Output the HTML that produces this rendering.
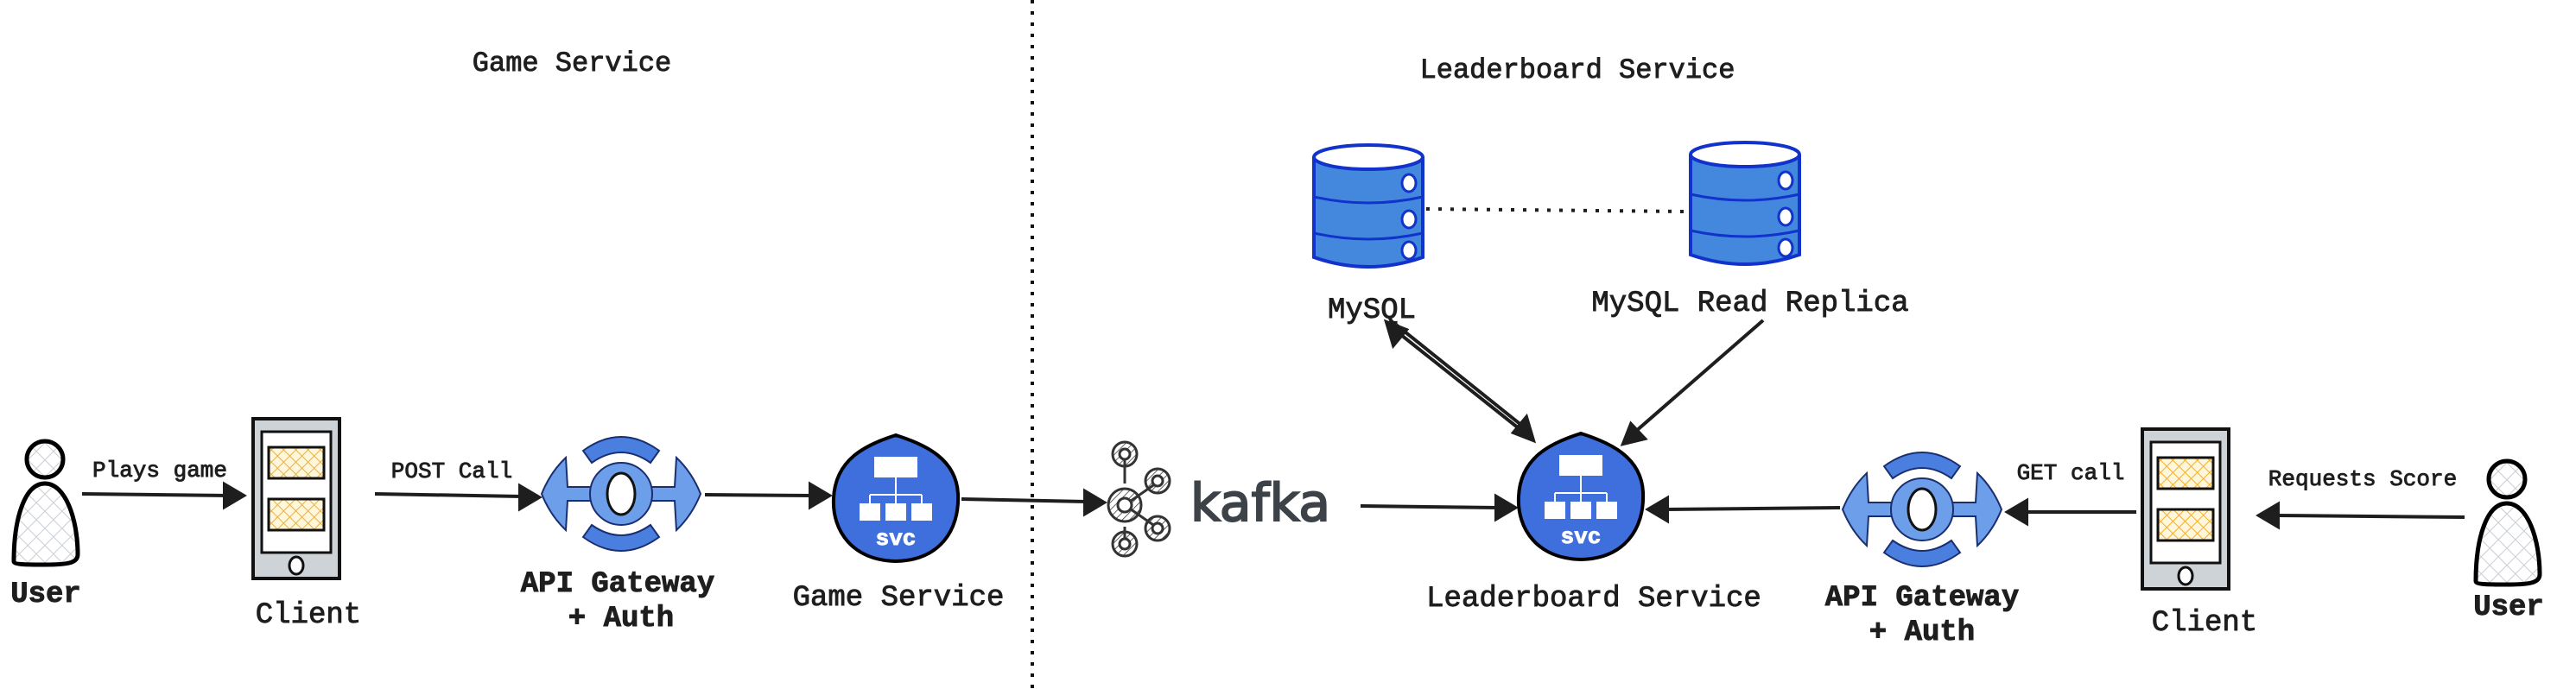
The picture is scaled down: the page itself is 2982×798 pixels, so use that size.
<!DOCTYPE html>
<html><head><meta charset="utf-8"><style>
html,body{margin:0;padding:0;background:#fff;}
svg{display:block}
text{font-family:"Liberation Mono","DejaVu Sans Mono",monospace;fill:#1e1e1e;stroke:#1e1e1e;stroke-width:0.9;}
</style></head><body>
<svg width="2982" height="798" viewBox="0 0 2982 798" xmlns="http://www.w3.org/2000/svg">
<defs>
<pattern id="hx" width="14" height="14" patternUnits="userSpaceOnUse" patternTransform="rotate(45)">
<path d="M0 0H14M0 0V14" stroke="#c8cdd4" stroke-width="2"/></pattern>
<pattern id="ox" width="10" height="10" patternUnits="userSpaceOnUse" patternTransform="rotate(45)">
<rect width="10" height="10" fill="#fff6dc"/><path d="M0 0H10M0 0V10" stroke="#f0b030" stroke-width="2"/></pattern>
<pattern id="kx" width="6" height="6" patternUnits="userSpaceOnUse" patternTransform="rotate(45)">
<path d="M0 0V6" stroke="#333" stroke-width="1.5"/></pattern>
<g id="user">
<path d="M-36 118 C-36 70 -24 28 0 28 C24 28 38 70 38 110 C38 120 27 122 0 122 C-22 122 -36 122 -36 118Z" fill="url(#hx)" stroke="#000" stroke-width="5"/>
<circle cx="0" cy="0" r="21" fill="url(#hx)" stroke="#000" stroke-width="5"/>
</g>
<g id="phone">
<rect x="0" y="0" width="100" height="185" fill="#ced3d8" stroke="#111" stroke-width="4"/>
<rect x="10" y="15" width="80" height="140" fill="#fff" stroke="#111" stroke-width="3"/>
<rect x="18" y="33" width="64" height="36" fill="url(#ox)" stroke="#111" stroke-width="3"/>
<rect x="18" y="93" width="64" height="36" fill="url(#ox)" stroke="#111" stroke-width="3"/>
<ellipse cx="50" cy="170" rx="8" ry="10" fill="#fff" stroke="#111" stroke-width="3"/>
</g>
<g id="gw">
<path d="M-44 -50 Q0 -82 44 -50 L34 -36 Q0 -60 -34 -36Z" fill="#4a7fe0" stroke="#1a2f70" stroke-width="2"/>
<path d="M-44 50 Q0 82 44 50 L34 36 Q0 60 -34 36Z" fill="#4a7fe0" stroke="#1a2f70" stroke-width="2"/>
<path d="M-92 0 Q-82 -25 -64 -42 L-62 -8 L-35 -8 L-35 8 L-62 8 L-64 42 Q-82 25 -92 0Z" fill="#6d9eea" stroke="#1a2f70" stroke-width="2"/>
<path d="M92 0 Q82 -25 64 -42 L62 -8 L35 -8 L35 8 L62 8 L64 42 Q82 25 92 0Z" fill="#6d9eea" stroke="#1a2f70" stroke-width="2"/>
<ellipse cx="0" cy="0" rx="36" ry="36" fill="#6d9eea" stroke="#1a2f70" stroke-width="2"/>
<ellipse cx="0" cy="0" rx="16" ry="24" fill="#fff" stroke="#111" stroke-width="3"/>
</g>
<g id="svc">
<path d="M0 -73 C35 -62 70 -45 72 -5 C74 38 50 72 0 73 C-50 72 -74 38 -72 0 C-70 -45 -35 -62 0 -73Z" fill="#3f6fdc" stroke="#000" stroke-width="4"/>
<rect x="-25" y="-48" width="50" height="24" fill="#fff"/>
<path d="M0 -24V-4M-30 -4H30M-30 -4V6M0 -4V6M30 -4V6" stroke="#fff" stroke-width="2" fill="none"/>
<rect x="-42" y="6" width="24" height="20" fill="#fff"/>
<rect x="-12" y="6" width="24" height="20" fill="#fff"/>
<rect x="18" y="6" width="24" height="20" fill="#fff"/>
<text x="0" y="54" text-anchor="middle" font-size="26" font-weight="bold" style="fill:#fff;stroke:#fff">svc</text>
</g>
<g id="db">
<path d="M0 12 V128 Q63 150 126 128 V12" fill="#4488dd" stroke="#1133cc" stroke-width="4"/>
<ellipse cx="63" cy="12" rx="63" ry="14" fill="#fff" stroke="#1133cc" stroke-width="4"/>
<path d="M0 58 Q63 72 126 58 M0 100 Q63 114 126 100" fill="none" stroke="#1133cc" stroke-width="3"/>
<ellipse cx="110" cy="42" rx="8" ry="10" fill="#fff" stroke="#1133cc" stroke-width="3"/>
<ellipse cx="110" cy="84" rx="8" ry="10" fill="#fff" stroke="#1133cc" stroke-width="3"/>
<ellipse cx="110" cy="120" rx="8" ry="10" fill="#fff" stroke="#1133cc" stroke-width="3"/>
</g>
</defs>

<line x1="1195" y1="0" x2="1195" y2="798" stroke="#111" stroke-width="4" stroke-dasharray="4 9"/>

<text x="662" y="82" text-anchor="middle" font-size="32">Game Service</text>
<text x="1826" y="90" text-anchor="middle" font-size="32">Leaderboard Service</text>

<use href="#user" x="52" y="532"/>
<text x="53" y="697" text-anchor="middle" font-size="34" font-weight="bold">User</text>
<use href="#phone" x="293" y="485"/>
<text x="357" y="721" text-anchor="middle" font-size="34">Client</text>
<use href="#gw" x="719" y="572"/>
<text x="715" y="685" text-anchor="middle" font-size="34" font-weight="bold">API Gateway</text>
<text x="719" y="725" text-anchor="middle" font-size="34" font-weight="bold">+ Auth</text>
<use href="#svc" x="1037" y="577"/>
<text x="1040" y="701" text-anchor="middle" font-size="34">Game Service</text>

<g stroke="#1e1e1e" stroke-width="4" fill="#1e1e1e">
<line x1="95" y1="572" x2="262" y2="574"/><path d="M282 574 L260 561 L260 587Z"/>
<line x1="434" y1="572" x2="604" y2="575"/><path d="M624 576 L602 563 L602 589Z"/>
<line x1="816" y1="573" x2="940" y2="574"/><path d="M960 574 L938 561 L938 587Z"/>
<line x1="1113" y1="578" x2="1258" y2="581"/><path d="M1278 582 L1256 569 L1256 595Z"/>
<line x1="1575" y1="586" x2="1734" y2="588"/><path d="M1754 588 L1732 575 L1732 601Z"/>
<line x1="2130" y1="588" x2="1928" y2="590"/><path d="M1908 590 L1930 577 L1930 603Z"/>
<line x1="2473" y1="593" x2="2344" y2="593"/><path d="M2324 593 L2346 580 L2346 606Z"/>
<line x1="2853" y1="599" x2="2635" y2="597"/><path d="M2615 597 L2637 584 L2637 610Z"/>
<line x1="1612" y1="380" x2="1763" y2="500"/><line x1="1616" y1="376" x2="1767" y2="497"/>
<path d="M1775 510 L1752 501 L1767 483Z"/><path d="M1605 373 L1628 382 L1613 400Z"/>
<line x1="2041" y1="371" x2="1893" y2="500"/><path d="M1879 514 L1888 491 L1904 508Z"/>
</g>
<line x1="1651" y1="242" x2="1950" y2="245" stroke="#1e1e1e" stroke-width="4" stroke-dasharray="4 10"/>

<text x="185" y="552" text-anchor="middle" font-size="26">Plays game</text>
<text x="523" y="553" text-anchor="middle" font-size="26">POST Call</text>
<text x="2397" y="555" text-anchor="middle" font-size="26">GET call</text>
<text x="2735" y="562" text-anchor="middle" font-size="26">Requests Score</text>

<g stroke="#333" stroke-width="3" fill="url(#kx)">
<path d="M1302 533 L1302 560 M1302 610 L1302 625 M1302 585 L1338 560 M1302 585 L1338 610" fill="none"/>
<circle cx="1302" cy="526" r="14"/><circle cx="1302" cy="526" r="6" fill="#fff"/>
<circle cx="1302" cy="585" r="19"/><circle cx="1302" cy="585" r="8" fill="#fff"/>
<circle cx="1302" cy="630" r="14"/><circle cx="1302" cy="630" r="6" fill="#fff"/>
<circle cx="1340" cy="557" r="14"/><circle cx="1340" cy="557" r="6" fill="#fff"/>
<circle cx="1340" cy="612" r="14"/><circle cx="1340" cy="612" r="6" fill="#fff"/>
</g>
<text x="1378" y="603" font-size="60" style="fill:#3c4248;stroke:#3c4248;stroke-width:2;font-family:'DejaVu Sans',sans-serif">kafka</text>

<use href="#db" x="1521" y="170"/>
<use href="#db" x="1957" y="167"/>
<text x="1588" y="368" text-anchor="middle" font-size="34">MySQL</text>
<text x="2026" y="360" text-anchor="middle" font-size="34">MySQL Read Replica</text>
<use href="#svc" x="1830" y="575"/>
<text x="1845" y="702" text-anchor="middle" font-size="34">Leaderboard Service</text>

<use href="#gw" x="2225" y="590"/>
<text x="2225" y="701" text-anchor="middle" font-size="34" font-weight="bold">API Gateway</text>
<text x="2225" y="741" text-anchor="middle" font-size="34" font-weight="bold">+ Auth</text>
<use href="#phone" x="2480" y="497"/>
<text x="2552" y="730" text-anchor="middle" font-size="34">Client</text>
<use href="#user" x="2902" y="555"/>
<text x="2904" y="712" text-anchor="middle" font-size="34" font-weight="bold">User</text>
</svg>
</body></html>
